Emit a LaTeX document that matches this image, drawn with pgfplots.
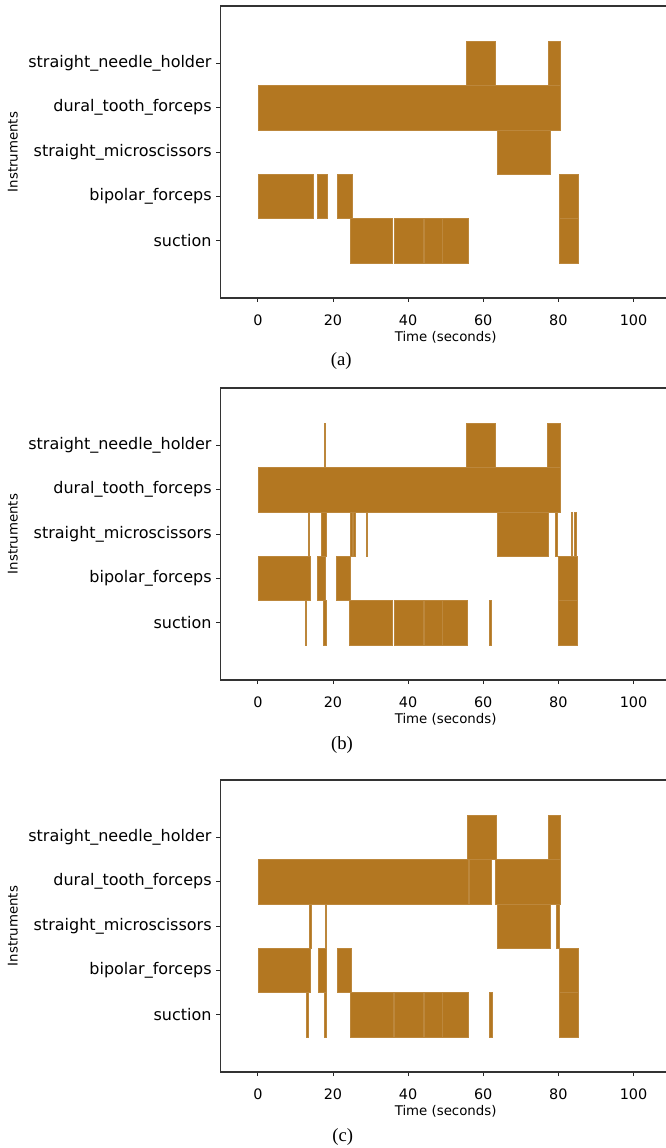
\documentclass[border=0pt]{standalone}
\usepackage{fontspec}
\setmainfont{DejaVu Sans}
\newfontfamily\capfont{Liberation Serif}
\usepackage{pgfplots}
\usepackage{pgfplotstable}
\pgfplotsset{compat=1.18}
\definecolor{barc}{RGB}{179,119,33}

% rows: 0 suction, 1 bipolar_forceps, 2 straight_microscissors, 3 dural_tooth_forceps, 4 straight_needle_holder
\pgfplotstableread{
r s e
4 55.5 63.2
4 77.2 80.5
3 0 80.5
2 63.6 77.7
1 0 14.8
1 15.9 18.5
1 21.2 25.0
1 80.3 85.2
0 24.5 35.9
0 36.3 44.1
0 44.4 49.2
0 49.2 55.9
0 80.3 85.2
}\dataA

\pgfplotstableread{
r s e
4 17.7 18.0
4 55.5 63.3
4 77.0 80.5
3 0 80.5
2 13.4 13.8
2 16.8 18.1
2 24.7 25.0
2 25.4 26.0
2 28.8 29.2
2 63.6 77.4
2 79.2 79.8
2 83.3 83.8
2 84.1 84.8
1 0 13.9
1 15.8 18.0
1 20.8 24.6
1 80.0 85.1
0 12.7 13.0
0 17.4 18.3
0 24.4 35.8
0 36.2 43.9
0 44.2 49.2
0 49.2 55.7
0 61.5 62.1
0 80.0 85.1
}\dataB

\pgfplotstableread{
r s e
4 55.6 63.4
4 77.2 80.6
3 0 56.1
3 56.2 62.2
3 63.1 80.6
2 13.7 14.1
2 17.8 18.3
2 63.6 77.7
2 79.5 80.1
1 0 14.0
1 16.0 18.1
1 21.0 24.8
1 80.2 85.3
0 12.9 13.4
0 17.6 18.3
0 24.7 36.1
0 36.3 44.1
0 44.3 49.2
0 49.2 56.0
0 61.7 62.3
0 80.2 85.3
}\dataC

\pgfplotsset{
  barstyle/.style={fill=barc, draw=barc!88!white, line width=0.3pt, mark=none},
  gantt/.style={
    scale only axis, width=338.1pt, height=219pt,
    xmin=-10, xmax=110, ymin=-1.29, ymax=5.29,
    xtick={0,20,40,60,80,100}, xticklabels={0,20,40,60,80,100},
    ytick={0,1,2,3,4},
    yticklabels={suction,bipolar\_forceps,straight\_microscissors,dural\_tooth\_forceps,straight\_needle\_holder},
    tick align=outside, major tick length=3pt,
    xtick pos=left, ytick pos=left,
    tick style={black!85, line width=0.6pt},
    axis line style={black!80, line width=0.8pt},
    yticklabel style={font=\fontsize{12}{14}\selectfont},
    xticklabel style={font=\fontsize{10.8}{12}\selectfont, yshift=-6pt},
    xlabel={Time (seconds)}, ylabel={Instruments},
    label style={font=\fontsize{10}{12}\selectfont},
    xlabel style={at={(rel axis cs:0.5,0)}, anchor=center, yshift=-29.5pt},
    ylabel style={at={([xshift=-155.5pt]rel axis cs:0,0.5)}, anchor=center},
    clip=true,
  }
}

\newcommand{\drawbars}[1]{%
  \pgfplotstablegetrowsof{#1}%
  \pgfmathtruncatemacro{\nlast}{\pgfplotsretval-1}%
  \pgfplotsforeachungrouped \ii in {0,...,\nlast}{%
    \pgfplotstablegetelem{\ii}{r}\of{#1}\let\yr\pgfplotsretval
    \pgfplotstablegetelem{\ii}{s}\of{#1}\let\xs\pgfplotsretval
    \pgfplotstablegetelem{\ii}{e}\of{#1}\let\xe\pgfplotsretval
    \pgfmathsetmacro{\ylo}{\yr-0.5}%
    \pgfmathsetmacro{\yhi}{\yr+0.5}%
    \edef\temp{\noexpand\addplot[barstyle] coordinates {(\xs,\ylo) (\xe,\ylo) (\xe,\yhi) (\xs,\yhi)} -- cycle;}%
    \temp
  }%
}

\begin{document}
\begin{tikzpicture}
\useasboundingbox (0,0) rectangle (499.5pt,-861pt);
\begin{axis}[gantt, at={(165.2pt,-4.5pt)}, anchor=north west]
\drawbars{\dataA}
\end{axis}
\begin{axis}[gantt, at={(165.2pt,-291pt)}, anchor=north west]
\drawbars{\dataB}
\end{axis}
\begin{axis}[gantt, at={(165.2pt,-585pt)}, anchor=north west]
\drawbars{\dataC}
\end{axis}
\node[font=\capfont\fontsize{14}{16}\selectfont] at (256pt,-271pt) {(a)};
\node[font=\capfont\fontsize{14}{16}\selectfont] at (256.5pt,-559pt) {(b)};
\node[font=\capfont\fontsize{14}{16}\selectfont] at (257pt,-852.5pt) {(c)};
\end{tikzpicture}
\end{document}
